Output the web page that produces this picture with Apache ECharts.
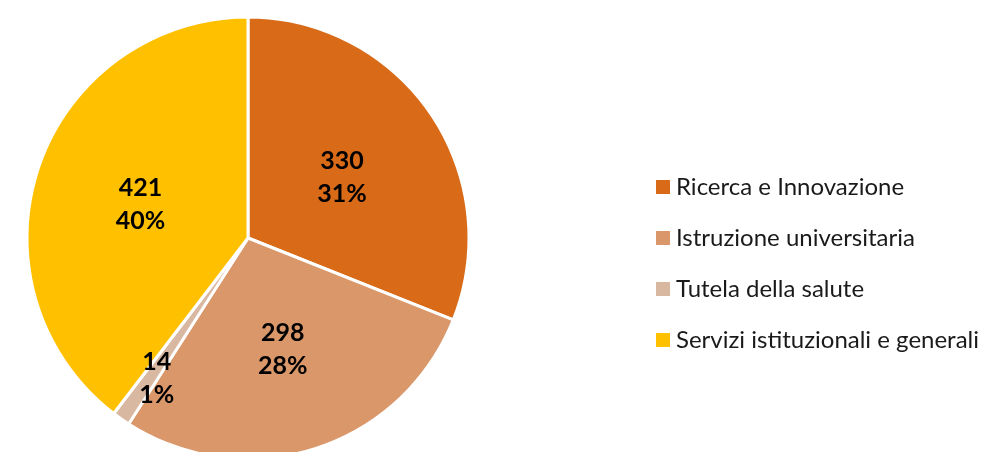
<!DOCTYPE html>
<html>
<head>
<meta charset="utf-8">
<script src="https://cdn.jsdelivr.net/npm/echarts@6/dist/echarts.min.js"></script>
<style>
  html, body { margin: 0; padding: 0; background: #fff; }
  #chart { width: 1001px; height: 452px; }
</style>
</head>
<body>
<div id="chart"></div>
<script>
const categories = ["Ricerca e Innovazione", "Istruzione universitaria", "Tutela della salute", "Servizi istituzionali e generali"];
const values = [330, 298, 14, 421];
const percents = ["31%", "28%", "1%", "40%"];
const colors = ["#D86A18", "#D9976A", "#D9B8A2", "#FFC000"];

const chart = echarts.init(document.getElementById("chart"));

const data = categories.map((name, i) => {
  const item = { name: name, value: values[i], itemStyle: { color: colors[i] } };
  // small slice: label sits further out
  if (i === 2) {
    item.label = { offset: [-26, 48] };
  }
  return item;
});

const option = {
  animation: false,
  legend: {
    orient: "vertical",
    left: 649,
    top: 170,
    icon: "rect",
    itemWidth: 16,
    itemHeight: 16,
    itemGap: 27,
    textStyle: {
      fontFamily: "Lato",
      fontSize: 24,
      lineHeight: 24,
      color: "#1a1a1a",
      padding: [0, 0, 0, 0],
    },
    data: categories,
  },
  series: [
    {
      type: "pie",
      center: [248, 238],
      radius: 221,
      startAngle: 90,
      clockwise: true,
      itemStyle: {
        borderColor: "#fff",
        borderWidth: 3,
      },
      label: {
        show: true,
        position: "inside",
        offset: [0, 3],
        fontFamily: "Lato",
        fontWeight: "bold",
        fontSize: 25,
        lineHeight: 33,
        color: "#000",
        formatter: (p) => p.value + "\n" + percents[p.dataIndex],
      },
      labelLine: { show: false },
      data: data,
    },
  ],
};

chart.setOption(option);
window.addEventListener("resize", () => {
  chart.resize();
});
</script>
</body>
</html>
